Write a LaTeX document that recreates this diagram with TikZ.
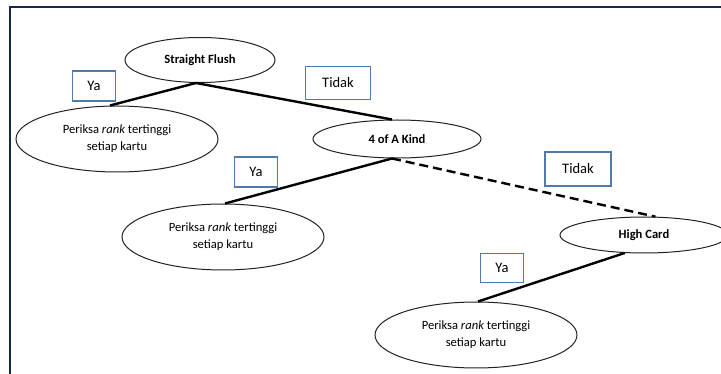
\documentclass[tikz,border=0pt]{standalone}
\usepackage{fontspec}
\setmainfont{Carlito}
\usetikzlibrary{shapes.geometric}
\definecolor{framecol}{HTML}{17284A}
\definecolor{boxcol}{HTML}{4F7BAA}
\definecolor{ovalcol}{HTML}{222222}
\tikzset{
  oval/.style={ellipse, draw=ovalcol, line width=1pt, fill=white, inner sep=0pt, align=center},
  decision/.style={oval, font=\fontsize{12.6}{14}\selectfont\bfseries},
  action/.style={oval, minimum width=202pt, minimum height=66pt, font=\fontsize{12.6}{17}\selectfont},
  tag/.style={draw=boxcol, line width=1.4pt, fill=white, inner sep=0pt, font=\fontsize{14.5}{16}\selectfont},
  link/.style={line width=2.4pt, black},
  maybe/.style={link, dash pattern=on 9pt off 5pt}
}
\begin{document}
\begin{tikzpicture}[x=1pt, y=-1pt]
\useasboundingbox (0,0) rectangle (721,374);
% outer frame
\draw[framecol, line width=2.6pt] (10,374) -- (10,7) -- (721,7);

% decision and action ovals
\node[decision, minimum width=150pt, minimum height=45pt] (sf) at (200,60) {Straight Flush};
\node[action] (p1) at (117,139) {Periksa \textit{rank} tertinggi\\setiap kartu};
\node[decision, minimum width=168pt, minimum height=38pt] (fk) at (397,139) {4 of A Kind};
\node[action] (p2) at (223,237) {Periksa \textit{rank} tertinggi\\setiap kartu};
\node[decision, minimum width=168pt, minimum height=36pt] (hc) at (644,235) {High Card};
\node[action] (p3) at (476,335) {Periksa \textit{rank} tertinggi\\setiap kartu};

% connectors
\draw[link] ([xshift=-4pt]sf.south) -- ([xshift=-7pt]p1.north);
\draw[link] ([xshift=-4pt]sf.south) -- ([xshift=-5pt]fk.north);
\draw[link] ([xshift=-5pt]fk.south) -- ([xshift=2pt]p2.north);
\draw[maybe] ([xshift=-5pt]fk.south) -- (hc.58.6);
\draw[link] (hc.223.5) -- ([xshift=2pt]p3.north);

% branch labels
\node[tag, minimum width=43pt, minimum height=30pt] (ya1) at (94,86) {Ya};
\node[tag, minimum width=65pt, minimum height=33pt] (td1) at (338,83) {Tidak};
\node[tag, minimum width=43pt, minimum height=30pt] (ya2) at (256,172) {Ya};
\node[tag, minimum width=66pt, minimum height=34pt] (td2) at (578,169) {Tidak};
\node[tag, minimum width=43pt, minimum height=29pt] (ya3) at (502,268) {Ya};
\end{tikzpicture}
\end{document}
